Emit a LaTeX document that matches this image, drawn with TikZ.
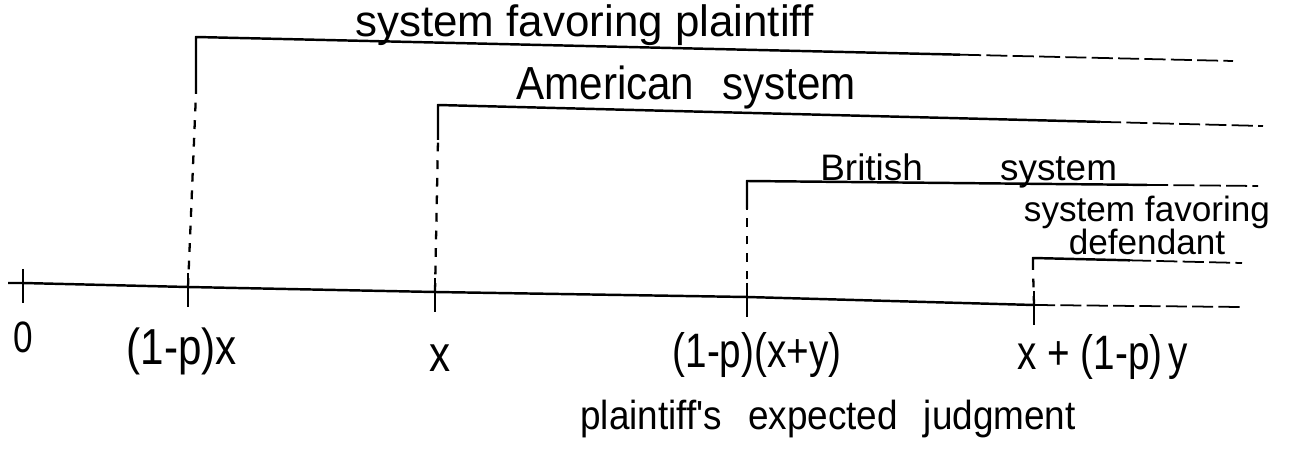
\documentclass[tikz,border=0pt]{standalone}
\usepackage{fontspec}
\usepackage{graphicx}
\setmainfont{Liberation Sans}
\usetikzlibrary{calc}
\newcommand{\tall}[2][1.25]{\scalebox{1}[#1]{#2}}
\tikzset{
  axisline/.style={line width=1.4pt},
  bar/.style={line width=1.4pt, line join=round},
  guide/.style={line width=1.3pt, dash pattern=on 5pt off 5pt},
  faint/.style={line width=1pt, dash pattern=on 12pt off 3pt},
  tickmark/.style={line width=1.4pt},
  lbl/.style={inner sep=0pt, anchor=base, font=\fontsize{22}{24}\selectfont},
  sys/.style={inner sep=0pt, align=center},
}
\begin{document}
\begin{tikzpicture}[x=0.02cm, y=-0.02cm]
  \useasboundingbox (0,0) rectangle (1296,449);

  % points on the axis
  \coordinate (start) at (8,283);
  \coordinate (o) at (23,283);
  \coordinate (a) at (188,287);
  \coordinate (b) at (435,292);
  \coordinate (c) at (747,297);
  \coordinate (d) at (1034,305);
  \coordinate (end) at (1242,307);

  \draw[axisline] (start) -- (o) -- (a) -- (b) -- (c) -- (d);
  \draw[faint] (d) -- (end);
  \foreach \t in {o,a,b,c,d}
    \draw[tickmark] ($(\t)+(0,-14)$) -- ($(\t)+(0,20)$);

  % the four systems
  \foreach \t/\tx/\ty/\cy/\fx/\ex/\ey in {a/196/37/93/960/1233/61, b/438/105/140/1100/1263/126,
      c/747/181/209/1147/1258/186, d/1033/258/268/1130/1242/263}{
    \coordinate (\t-top) at (\tx,\ty);
    \coordinate (\t-cut) at (\tx,\cy);
    \coordinate (\t-end) at (\ex,\ey);
    \coordinate (\t-fade) at ($(\t-top)!{(\fx-\tx)/(\ex-\tx)}!(\t-end)$);
    \draw[guide] (\t) -- (\t-cut);
    \draw[bar] (\t-cut) -- (\t-top) -- (\t-fade);
    \draw[faint] (\t-fade) -- (\t-end);
  }

  \node[sys, anchor=base west, font=\fontsize{25}{27}\selectfont] (plf) at (355,37)
    {system favoring plaintiff};
  \node[sys, anchor=base west, font=\fontsize{24}{26}\selectfont] (am) at (516,100)
    {\tall[1.1]{American\hspace{16pt}system}};
  \node[sys, anchor=base west, font=\fontsize{21}{23}\selectfont] (br) at (820,181)
    {British\hspace{44pt}system};
  \node[sys, anchor=north, font={\fontsize{20}{18.8}\selectfont\lineskiplimit=-100pt\relax}] (dfd) at (1147,196)
    {system favoring\\defendant};

  % labels under the axis
  \node[lbl, font=\fontsize{20}{22}\selectfont] (l0) at (23,353) {\tall{0}};
  \node[lbl, font=\fontsize{24}{26}\selectfont] (la) at (182,365) {\tall[1.2]{(1-p)x}};
  \node[lbl, font=\fontsize{24}{26}\selectfont] (lb) at (440,372) {\tall[1.2]{x}};
  \node[lbl] (lc) at (757,368) {\tall{(1-p)(x+y)}};
  \node[lbl] (ld) at (1103,370) {\tall{x\hspace{6pt}+\hspace{6pt}(1-p)\,y}};
  \node[lbl, font=\fontsize{21}{23}\selectfont] (pej) at (828,430)
    {\tall[1.1]{plaintiff\textquotesingle s\hspace{9pt} expected\hspace{9pt} judgment}};
\end{tikzpicture}
\end{document}
